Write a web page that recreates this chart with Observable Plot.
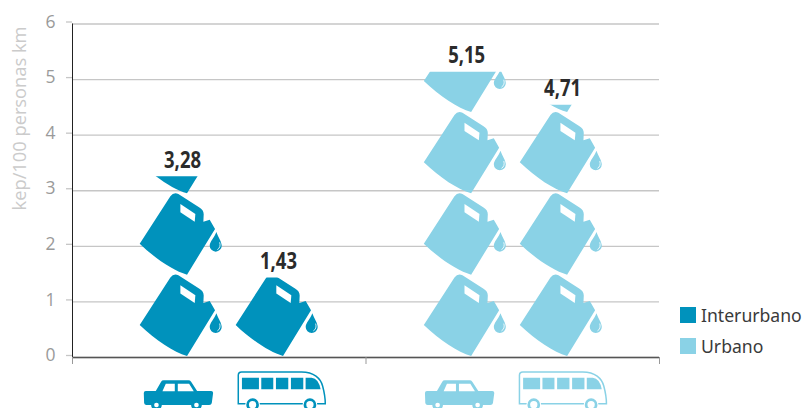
<!DOCTYPE html>
<html><head><meta charset="utf-8">
<script src="https://cdn.jsdelivr.net/npm/d3@7"></script>
<script src="https://cdn.jsdelivr.net/npm/@observablehq/plot@0.6"></script>
<style>
html,body{margin:0;padding:0;background:#fff;overflow:hidden;width:802px;height:408px}
#chart{position:relative;width:802px;height:408px}
#chart svg{display:block}
.lg{position:absolute;left:680px;font:17.6px "Noto Sans",sans-serif;color:#3a3a3a;display:flex;align-items:center;white-space:nowrap;height:16px}
.lg i{display:block;width:16px;height:16px;margin-right:5px}
</style></head><body><div id="chart"></div>
<script>
const groups = ["Interurbano", "Urbano"];
const vehicles = ["coche", "autobús"];
const interurbano = [3.28, 1.43];
const urbano = [5.15, 4.71];
const fillInterurbano = [3.25, 1.43];
const fillUrbano = [5.13, 4.54];
const colors = ["#0092bc", "#8ad2e6"];
const yTicks = [0, 1, 2, 3, 4, 5, 6];
const yLabel = "kep/100 personas km";
const canValue = 1.462;

const canCenters = [0.535, 1.503], canOffset = 0.1635;
const vehCenters = [0.539, 1.497], vehOffset = 0.1763;

const values = [interurbano, urbano], fills = [fillInterurbano, fillUrbano];
const rows = groups.flatMap((g, i) => vehicles.map((v, j) => ({
  group: g, vehicle: v, value: values[i][j], level: fills[i][j],
  x: canCenters[i] + (j ? 1 : -1) * canOffset,
  vx: vehCenters[i] + (j ? 1 : -1) * vehOffset,
  label: values[i][j].toFixed(2).replace(".", ","), color: colors[i]
})));
const cans = rows.flatMap(r => {
  const out = [];
  for (let k = 0; k * canValue < r.level; k++) out.push({...r, bottom: k * canValue + 0.02});
  return out;
});

const CAN = "M172 403 C132 392 78 356 30 310 L122 168 Q132 154 146 161 L208 201 Q222 209 222 222 L221 244 L240 238 L256 266 Z";
const HOLE = "M152 191 L197 221 L195 244 L152 216 Z";
const DROP = "M260 275 C266 292 276 304 276 316 A18 18 0 0 1 240 316 C240 304 254 292 260 275 Z";
const SHINE = "M270 306 C273 316 270 324 263 328";

function canMark(index, scales, vals) {
  const svg = d3.create("svg:g");
  const defs = svg.append("defs");
  for (const i of index) {
    const d = cans[i], id = "cl" + i;
    const top = scales.y(d.level);
    defs.append("clipPath").attr("id", id).append("rect")
      .attr("x", 0).attr("width", 802).attr("y", top).attr("height", 408 - top);
    const g = svg.append("g").attr("clip-path", `url(#${id})`)
      .append("g").attr("transform", `translate(${vals.x[i] + 6},${vals.y[i]}) scale(${1/3}) translate(-172,-403)`);
    g.append("path").attr("d", CAN).attr("fill", d.color);
    g.append("path").attr("d", HOLE).attr("fill", "#fff");
    g.append("path").attr("d", DROP).attr("fill", d.color);
    g.append("path").attr("d", SHINE).attr("fill", "none").attr("stroke", "#fff").attr("stroke-width", 2.5);
  }
  return svg.node();
}

function vehicleMark(index, scales, vals) {
  const svg = d3.create("svg:g");
  for (const i of index) {
    const d = rows[i], c = d.color;
    if (d.vehicle === "coche") {
      const g = svg.append("g").attr("transform", `translate(${vals.x[i]},${scales.y(0)}) scale(${1/3}) translate(-146,-48)`);
      g.append("path").attr("fill", c).attr("d", "M48 150 L78 150 L94 122 Q96 118 102 118 L176 118 Q181 118 184 122 L202 150 L244 150 Q250 150 250 156 L246 186 Q245 192 238 192 L50 192 Q44 192 43 186 L42 156 Q42 150 48 150 Z");
      g.append("path").attr("fill", "#fff").attr("d", "M98 151 L108 128 L135 128 L135 151 Z M144 128 L178 128 L192 151 L144 151 Z");
      for (const wx of [80, 200]) {
        g.append("circle").attr("cx", wx).attr("cy", 192).attr("r", 16).attr("fill", c);
        g.append("circle").attr("cx", wx).attr("cy", 192).attr("r", 7).attr("fill", "#fff");
      }
    } else {
      const g = svg.append("g").attr("transform", `translate(${vals.x[i]},${scales.y(0)}) scale(${1/3}) translate(-456,-48)`);
      g.append("path").attr("fill", "none").attr("stroke", c).attr("stroke-width", 4.5).attr("d", "M335 93 L515 93 C552 93 572 112 578 135 Q586 165 586 188 L325 188 L325 103 Q325 93 335 93 Z");
      g.append("path").attr("fill", c).attr("d", "M336 110 H387 V145 H336 Z M394 110 H430 V145 H394 Z M438 110 H475 V145 H438 Z M483 110 H520 V145 H483 Z M527 110 H545 Q566 112 572 145 H527 Z");
      for (const wx of [368, 540]) {
        g.append("circle").attr("cx", wx).attr("cy", 191).attr("r", 22).attr("fill", "#fff");
        g.append("circle").attr("cx", wx).attr("cy", 191).attr("r", 15).attr("fill", "#fff").attr("stroke", c).attr("stroke-width", 8);
      }
    }
  }
  return svg.node();
}

const plot = Plot.plot({
  width: 802, height: 408,
  marginLeft: 72, marginRight: 143, marginTop: 23.5, marginBottom: 51,
  x: {domain: [0, 2], range: [72, 659], axis: null},
  y: {domain: [0, 6], range: [357, 23.5], axis: null},
  style: {background: "#fff", overflow: "hidden"},
  marks: [
    Plot.ruleY(yTicks, {stroke: "#c6c6c6", strokeWidth: 1.3, x1: 0, x2: 2}),
    Plot.axisY({ticks: yTicks, tickSize: 6, tickPadding: 11, label: null, stroke: "#c6c6c6", strokeWidth: 1.3,
      tickFormat: d => d, fill: "#9a9a9a", fontSize: 17.5, fontFamily: "Open Sans", dy: -2}),
    Plot.text([yLabel], {y: () => 4.3, frameAnchor: "left", textAnchor: "middle", dx: -52, rotate: -90, fill: "#cbcbcb",
      fontSize: 18.3, fontFamily: "Open Sans", text: d => d}),
    Plot.ruleX([0], {y1: 0, y2: 6, stroke: "#222", strokeWidth: 1}),
    Plot.ruleY([0], {x1: 0, x2: 2, stroke: "#555", strokeWidth: 1.5}),
    Plot.axisX({ticks: [0, 1, 2], tickSize: 7, tickFormat: () => "", label: null, stroke: "#999"}),
    Plot.dot(cans, {x: "x", y: "bottom", r: 1, render: canMark}),
    Plot.dot(rows, {x: "vx", y: () => 0, r: 1, render: vehicleMark}),
    Plot.text(rows, {x: "x", y: "level", text: "label", dx: 1, dy: -9, lineAnchor: "bottom", className: "vlabel",
      fontFamily: "Noto Sans", fontWeight: "bold", fontSize: 23, fill: "#2b2b2b"})
  ]
});
const root = document.getElementById("chart");
root.append(plot);
plot.querySelectorAll(".vlabel text").forEach(t => {
  t.setAttribute("textLength", 37);
  t.setAttribute("lengthAdjust", "spacingAndGlyphs");
});
groups.forEach((g, i) => {
  const d = document.createElement("div");
  d.className = "lg";
  d.style.top = (i ? 338 : 307) + "px";
  const s = document.createElement("i");
  s.style.background = colors[i];
  d.append(s, document.createTextNode(g));
  root.append(d);
});
</script></body></html>
